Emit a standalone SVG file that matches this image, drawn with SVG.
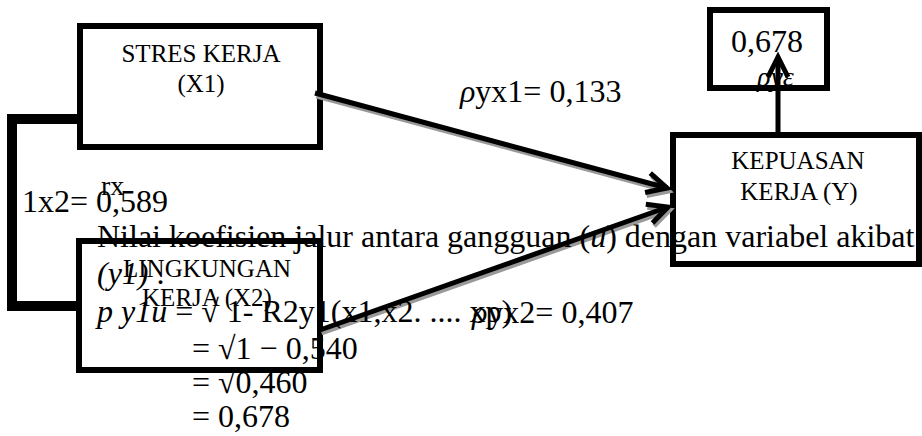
<svg xmlns="http://www.w3.org/2000/svg" width="922" height="436" viewBox="0 0 922 436" font-family="'Liberation Serif', 'Times New Roman', serif">
<style>
  .box{fill:#fff;stroke:#000;stroke-width:6}
  text{font-family:"Liberation Serif","Times New Roman",serif;fill:#000}
  .lbl{font-size:25px;text-anchor:middle}
  .big{font-size:32px}
  .sm{font-size:28px}
  .it{font-style:italic}
  .ln{stroke:#000;stroke-width:5;fill:none}
  .sh{stroke:#999;stroke-width:5;fill:none}
</style>
<defs>
  <marker id="ah" markerUnits="userSpaceOnUse" markerWidth="40" markerHeight="40" viewBox="-30 -20 40 40" refX="0" refY="0" orient="auto">
    <path d="M-20,-10 L0,0 L-20,10" fill="none" stroke="#000" stroke-width="5"/>
  </marker>
  <marker id="ahs" markerUnits="userSpaceOnUse" markerWidth="40" markerHeight="40" viewBox="-30 -20 40 40" refX="0" refY="0" orient="auto">
    <path d="M-20,-10 L0,0 L-20,10" fill="none" stroke="#999" stroke-width="5"/>
  </marker>
</defs>

<g id="node-x1">
  <rect class="box" x="80" y="26" width="240" height="121"/>
  <text class="lbl" x="201" y="62">STRES KERJA</text>
  <text class="lbl" x="201" y="92">(X1)</text>
</g>
<g id="node-x2">
  <rect class="box" x="79" y="241" width="241" height="129"/>
  <text class="lbl" x="207" y="277">LINGKUNGAN</text>
  <text class="lbl" x="207" y="306">KERJA (X2)</text>
</g>
<g id="node-y">
  <rect class="box" x="673" y="135" width="246" height="129"/>
  <text class="lbl" x="798" y="169">KEPUASAN</text>
  <text class="lbl" x="799" y="200">KERJA (Y)</text>
</g>
<g id="node-e">
  <rect class="box" x="710" y="10" width="117" height="78"/>
  <text class="big" x="731" y="52">0,678</text>
</g>

<g id="connectors">
  <path d="M80,119 H12 V306 H79" fill="none" stroke="#000" stroke-width="10"/>
  <g transform="translate(1.5,3)">
    <line class="sh" x1="315" y1="93" x2="667" y2="188" marker-end="url(#ahs)"/>
    <line class="sh" x1="320" y1="330" x2="668" y2="207" marker-end="url(#ahs)"/>
  </g>
  <line class="ln" x1="315" y1="93" x2="667" y2="188" marker-end="url(#ah)"/>
  <line class="ln" x1="320" y1="330" x2="668" y2="207" marker-end="url(#ah)"/>
  <line class="ln" x1="778" y1="132" x2="778" y2="57" marker-end="url(#ah)"/>
</g>

<g id="labels">
  <text class="big" x="460" y="102"><tspan class="it">ρ</tspan>yx1= 0,133</text>
  <text class="sm it" x="757" y="86">ρyε</text>
  <text class="sm" x="101" y="195">rx</text>
  <text class="big" x="22" y="212">1x2= 0,589</text>
  <text class="big" x="472" y="323"><tspan class="it">ρ</tspan>yx2= 0,407</text>
</g>

<g id="formula">
  <text class="big" x="97" y="247">Nilai koefisien jalur antara gangguan (<tspan class="it">u</tspan>) dengan variabel akibat</text>
  <text class="big" x="97" y="284"><tspan class="it">(y1)</tspan> .</text>
  <text class="big" x="97" y="322"><tspan class="it">p y1u</tspan> = √ 1- R2y1(x1,x2. .... xp)</text>
  <text class="big" x="192" y="359">= √1 − 0,540</text>
  <text class="big" x="192" y="393">= √0,460</text>
  <text class="big" x="192" y="427">= 0,678</text>
</g>
</svg>
